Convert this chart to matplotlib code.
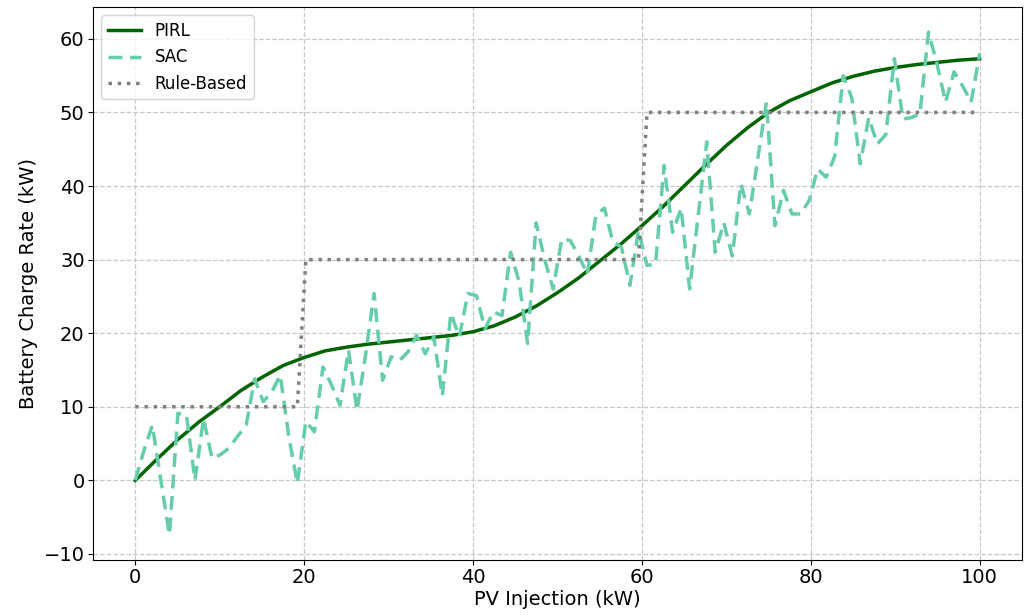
import numpy as np
import matplotlib
matplotlib.use("Agg")
import matplotlib.pyplot as plt

# PV injection grid used by the SAC and rule-based policies (100 samples)
x = np.linspace(0, 100, 100)

# SAC output, one value per sample
sac = [0, 4, 7.5, 0, -7.4, 9.1, 8.9, 0, 8.4, 3.0,
       3.5, 4.4, 6.0, 7.5, 13.8, 10.7, 12.0, 14.3, 6.0, -0.4,
       8.0, 6.6, 15.4, 13.0, 10.2, 17.7, 9.5, 17.0, 25.4, 13.6,
       16.8, 16.3, 17.5, 19.7, 17.2, 19.5, 11.5, 22.7, 19.5, 25.4,
       25.1, 20.6, 22.9, 22.4, 31.0, 27.0, 18.6, 35.0, 30.0, 26.0,
       32.8, 32.6, 30.5, 28.0, 36.0, 37.0, 32.4, 31.7, 26.5, 34.0,
       29.2, 29.4, 42.8, 33.7, 37.0, 26.0, 36.0, 46.0, 31.0, 35.0,
       30.5, 40.3, 36.2, 43.8, 51.4, 34.6, 39.4, 36.2, 36.2, 38.0,
       42.3, 41.2, 44.0, 55.0, 52.0, 43.0, 49.3, 45.7, 47.0, 57.3,
       49.1, 49.3, 49.8, 60.9, 56.6, 51.4, 55.5, 53.6, 51.4, 58.0]

# PIRL curve (read every 2.5 kW)
pirl_x = [0, 2.5, 5, 7.5, 10, 12.5, 15, 17.5, 20, 22.5, 25, 27.5, 30, 32.5,
          35, 37.5, 40, 42.5, 45, 47.5, 50, 52.5, 55, 57.5, 60, 62.5, 65,
          67.5, 70, 72.5, 75, 77.5, 80, 82.5, 85, 87.5, 90, 92.5, 95, 97.5, 100]
pirl_y = [0, 2.8, 5.5, 7.9, 10.0, 12.2, 14.0, 15.6, 16.7, 17.6, 18.1, 18.5, 18.8, 19.1,
          19.4, 19.7, 20.2, 21.0, 22.2, 23.7, 25.5, 27.5, 29.8, 32.1, 34.6, 37.2, 40.0,
          42.8, 45.5, 47.9, 50.0, 51.6, 52.8, 54.0, 54.9, 55.6, 56.1, 56.5, 56.8, 57.1, 57.3]

# rule-based policy: thresholds and levels
rule_thresholds = [20, 60]
rule_levels = [10, 30, 50]
rule = np.array(rule_levels)[np.searchsorted(rule_thresholds, x, side="right")]

fig = plt.figure(figsize=(10.27, 6.15), dpi=100)
ax = fig.add_axes([0.0906, 0.0895, 0.9044, 0.899])

ax.plot(pirl_x, pirl_y, color="darkgreen", lw=2.5, label="PIRL")
ax.plot(x, sac, color="mediumaquamarine", lw=2.5, ls="--", dashes=(4, 2.2), label="SAC")
ax.plot(x, rule, color="gray", lw=2.5, ls=":", label="Rule-Based")

ax.set_xlabel("PV Injection (kW)", fontsize=14, labelpad=2)
ax.set_ylabel("Battery Charge Rate (kW)", fontsize=14)
ax.tick_params(labelsize=14, pad=2.5)
ax.grid(True, ls="--", color="#c8c8c8", lw=0.9)
ax.legend(loc="upper left", fontsize=12)

fig.savefig("out.png", dpi=100)
